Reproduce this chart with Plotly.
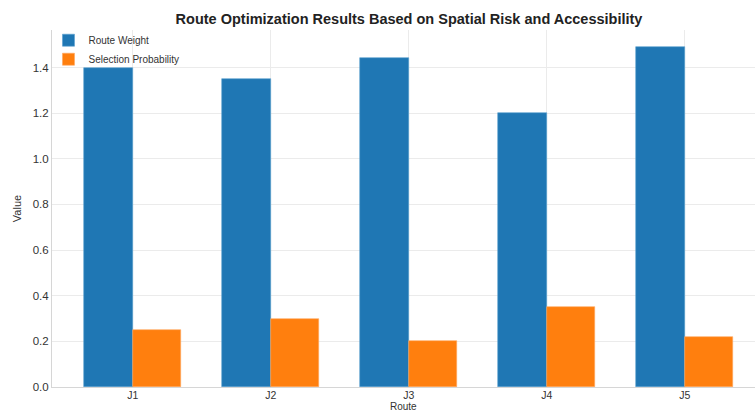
import plotly.graph_objects as go

routes = ["J1", "J2", "J3", "J4", "J5"]
route_weight = [1.40, 1.35, 1.44, 1.20, 1.49]
selection_prob = [0.25, 0.30, 0.20, 0.35, 0.22]

xpos = list(range(len(routes)))
bw = 0.35

fig = go.Figure()
fig.add_trace(go.Bar(
    x=[p - bw / 2 for p in xpos], y=route_weight, width=bw, name="Route Weight",
    marker=dict(color="#1f77b4", line=dict(color="#5b9fd0", width=0.6)),
))
fig.add_trace(go.Bar(
    x=[p + bw / 2 for p in xpos], y=selection_prob, width=bw, name="Selection Probability",
    marker=dict(color="#ff7f0e", line=dict(color="#ffa860", width=0.6)),
))

fig.update_layout(
    width=755, height=413,
    margin=dict(l=52, r=0, t=30, b=26, autoexpand=False),
    paper_bgcolor="white", plot_bgcolor="white",
    font=dict(family="Liberation Sans, Arial, sans-serif", color="#333333", size=11),
    title=dict(text="<b>Route Optimization Results Based on Spatial Risk and Accessibility</b>",
               x=409 / 755, xanchor="center", y=1 - 19 / 413, yanchor="middle",
               font=dict(size=14.5, color="#222222")),
    barmode="overlay",
    bargap=0,
    showlegend=True,
    legend=dict(x=-0.005, y=1.012, xanchor="left", yanchor="top",
                bgcolor="rgba(255,255,255,0)", font=dict(size=10, color="#333333"),
                tracegroupgap=0, itemwidth=30),
    annotations=[dict(text="Route", xref="paper", yref="paper", x=0.5, y=-27 / 357,
                      xanchor="center", yanchor="bottom", showarrow=False,
                      font=dict(size=10, color="#333333"))],
)
fig.update_xaxes(
    tickvals=xpos, ticktext=routes, range=[-0.585, 4.509],
    showgrid=True, gridcolor="#ebebeb", gridwidth=1,
    showline=True, linecolor="#d6d6d6", linewidth=1, mirror=False,
    ticks="", zeroline=False, automargin=False, ticklabelstandoff=-2,
    tickfont=dict(size=10.5),
)
fig.update_yaxes(
    range=[0, 1.5645], tickvals=[0, 0.2, 0.4, 0.6, 0.8, 1.0, 1.2, 1.4],
    tickformat=".1f", automargin=False,
    showgrid=True, gridcolor="#ebebeb", gridwidth=1,
    showline=True, linecolor="#d6d6d6", linewidth=1,
    ticks="", zeroline=False,
    title=dict(text="Value", standoff=8, font=dict(size=11)),
    tickfont=dict(size=11.5),
)

fig.write_html(
    "out.html",
    config={"displayModeBar": False},
    post_script="document.body.style.margin='0';document.body.style.overflow='hidden';",
)
